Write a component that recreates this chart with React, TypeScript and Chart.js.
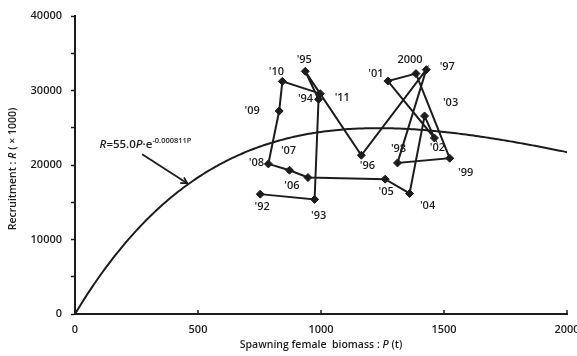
import React, { useEffect, useRef } from "react";
import { Chart, registerables } from "chart.js";

Chart.register(...registerables);

// Observed stock–recruitment points (spawning female biomass P in t, recruitment R ×1000)
const yearLabels = ["'92", "'93", "'94", "'95", "'96", "'97", "'98", "'99", "2000", "'01", "'02", "'03", "'04", "'05", "'06", "'07", "'08", "'09", "'10", "'11"];
const biomassP = [753, 974, 990, 936, 1164, 1428, 1311, 1523, 1386, 1272, 1461, 1421, 1360, 1261, 947, 872, 786, 830, 843, 997];
const recruitR = [16090, 15380, 28820, 32570, 21310, 32800, 20280, 20910, 32270, 31270, 23630, 26580, 16180, 18100, 18320, 19300, 20150, 27250, 31230, 29580];

// label offsets (px) of the year labels relative to their markers
const labelDx = [2, 4, -13, -1, 6, 21, 1, 16, -6, -12, 3, 26, 18, 1, -16, -1, -12, -27, -6, 22];
const labelDy = [13, 16, 0, -11, 11, -3, -14, 15, -14, -7, 10, -13, 12, 13, 8, -19, -1, 0, -9, 4];

// Ricker model shown on the chart: R = a·P·e^(−b·P)
const rickerA = 55.0;
const rickerB = 0.000811;
const curveP: number[] = [];
for (let p = 0; p <= 2000; p += 10) curveP.push(p);

const xTicks = [0, 500, 1000, 1500, 2000];
const FONT = '"Open Sans", "Liberation Sans", Arial, sans-serif';
const W = "600";
const INK = "#1c1c1c";

function drawSegments(ctx: CanvasRenderingContext2D, segs: { t: string; f: string; dy?: number }[], x: number, y: number, align: "left" | "center") {
  let total = 0;
  for (const s of segs) { ctx.font = s.f; total += ctx.measureText(s.t).width; }
  let cx = align === "center" ? x - total / 2 : x;
  ctx.textAlign = "left";
  for (const s of segs) {
    ctx.font = s.f;
    ctx.fillText(s.t, cx, y + (s.dy || 0));
    cx += ctx.measureText(s.t).width;
  }
}

const annotPlugin = {
  id: "annot",
  afterDraw(chart: any) {
    const ctx: CanvasRenderingContext2D = chart.ctx;
    const xs = chart.scales.x;
    const ys = chart.scales.y;
    const area = chart.chartArea;
    ctx.save();
    // inward ticks on x axis
    ctx.strokeStyle = INK;
    ctx.lineWidth = 1.5;
    for (const v of xTicks) {
      const px = xs.getPixelForValue(v);
      ctx.beginPath();
      ctx.moveTo(px, area.bottom);
      ctx.lineTo(px, area.bottom - 4);
      ctx.stroke();
    }
    // year labels
    const meta = chart.getDatasetMeta(1);
    ctx.fillStyle = INK;
    ctx.font = `${W} 11px ${FONT}`;
    ctx.textAlign = "center";
    ctx.textBaseline = "middle";
    meta.data.forEach((el: any, i: number) => {
      ctx.fillText(yearLabels[i], el.x + labelDx[i], el.y + labelDy[i]);
    });
    // equation
    ctx.textBaseline = "alphabetic";
    const ex = xs.getPixelForValue(100);
    const ey = ys.getPixelForValue(22300);
    drawSegments(ctx, [
      { t: "R", f: `italic ${W} 11.5px ${FONT}` },
      { t: "=55.0", f: `${W} 11.5px ${FONT}` },
      { t: "P", f: `italic ${W} 11.5px ${FONT}` },
      { t: "·e", f: `${W} 11.5px ${FONT}` },
      { t: "-0.000811P", f: `${W} 7.5px ${FONT}`, dy: -5 },
    ], ex, ey, "left");
    // arrow to the curve
    const tp = 460;
    const tx = xs.getPixelForValue(tp);
    const ty = ys.getPixelForValue(rickerA * tp * Math.exp(-rickerB * tp));
    const sx = tx - 46;
    const sy = ty - 30;
    ctx.lineWidth = 1.8;
    ctx.beginPath();
    ctx.moveTo(sx, sy);
    ctx.lineTo(tx - 1, ty - 1);
    ctx.stroke();
    const ang = Math.atan2(ty - sy, tx - sx);
    ctx.beginPath();
    ctx.moveTo(tx - 8 * Math.cos(ang - 0.45), ty - 8 * Math.sin(ang - 0.45));
    ctx.lineTo(tx - 1, ty - 1);
    ctx.lineTo(tx - 8 * Math.cos(ang + 0.45), ty - 8 * Math.sin(ang + 0.45));
    ctx.stroke();
    // x axis title
    ctx.textBaseline = "middle";
    drawSegments(ctx, [
      { t: "Spawning female  biomass : ", f: `${W} 10.5px ${FONT}` },
      { t: "P", f: `italic ${W} 10.5px ${FONT}` },
      { t: " (t)", f: `${W} 10.5px ${FONT}` },
    ], (area.left + area.right) / 2, 345, "center");
    // y axis title
    ctx.translate(13, 169);
    ctx.rotate(-Math.PI / 2);
    drawSegments(ctx, [
      { t: "Recruitment : ", f: `${W} 10.5px ${FONT}` },
      { t: "R", f: `italic ${W} 10.5px ${FONT}` },
      { t: " ( × 1000)", f: `${W} 10.5px ${FONT}` },
    ], 0, 0, "center");
    ctx.restore();
  },
};

export default function App() {
  const ref = useRef<HTMLCanvasElement | null>(null);
  useEffect(() => {
    if (!ref.current) return;
    const curve = curveP.map((p) => ({ x: p, y: rickerA * p * Math.exp(-rickerB * p) }));
    const pts = biomassP.map((p, i) => ({ x: p, y: recruitR[i] }));
    const chart = new Chart(ref.current, {
      type: "scatter",
      data: {
        datasets: [
          {
            data: curve,
            showLine: true,
            borderColor: INK,
            borderWidth: 2,
            pointRadius: 0,
            tension: 0,
          },
          {
            data: pts,
            showLine: true,
            borderColor: INK,
            borderWidth: 2,
            pointStyle: "rectRot",
            pointRadius: 4,
            pointBackgroundColor: INK,
            pointBorderColor: INK,
            pointBorderWidth: 1,
          },
        ],
      },
      options: {
        responsive: false,
        animation: false,
        devicePixelRatio: 1,
        layout: { padding: { left: 0, top: 16, right: 10, bottom: 0 } },
        plugins: { legend: { display: false }, tooltip: { enabled: false } },
        scales: {
          x: {
            type: "linear",
            min: 0,
            max: 2000,
            afterBuildTicks: (s: any) => { s.ticks = xTicks.map((v) => ({ value: v })); },
            afterFit: (s: any) => { s.height = 42; s.paddingLeft = 0; s.paddingRight = 0; },
            grid: { display: true, drawOnChartArea: false, drawTicks: false },
            border: { color: INK, width: 2 },
            ticks: {
              color: INK,
              font: { family: FONT, size: 11, weight: W },
              padding: 9,
              maxRotation: 0,
              callback: (v: any) => String(v),
            },
          },
          y: {
            type: "linear",
            min: 0,
            max: 40000,
            ticks: {
              stepSize: 5000,
              color: INK,
              font: { family: FONT, size: 11, weight: W },
              padding: 9,
              callback: (v: any) => (v % 10000 === 0 ? String(v) : ""),
            },
            afterFit: (s: any) => { s.width = 75; s.paddingTop = 0; s.paddingBottom = 0; },
            grid: { display: true, drawOnChartArea: false, drawTicks: true, tickLength: 4, tickColor: INK, tickWidth: 1.5 },
            border: { color: INK, width: 2 },
          },
        },
      },
      plugins: [annotPlugin],
    });
    return () => chart.destroy();
  }, []);
  return (
    <div style={{ position: "fixed", left: 0, top: 0, width: 577, height: 356, background: "#fff" }}>
      <canvas ref={ref} width={577} height={356} />
    </div>
  );
}
